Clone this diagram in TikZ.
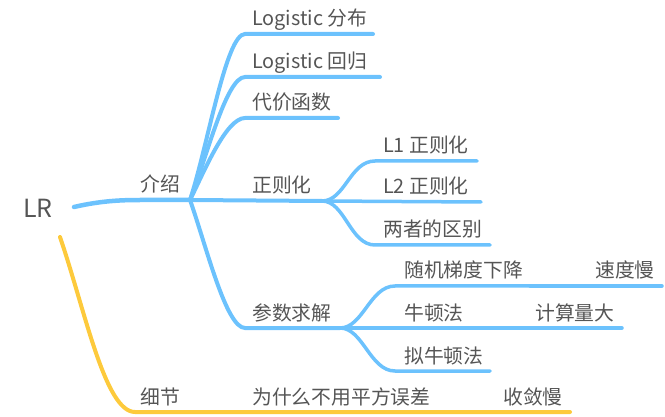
\documentclass[tikz,border=0pt]{standalone}
\usepackage{fontspec}
\setmainfont{Noto Sans CJK SC}
\usetikzlibrary{positioning}
\definecolor{skyline}{HTML}{6CC2FD}
\definecolor{sunline}{HTML}{FDCA3C}
\definecolor{inkgray}{HTML}{555555}
\tikzset{
	topic/.style={anchor=base west, inner sep=0pt, text=inkgray, font=\fontsize{19.8}{20}\selectfont},
	rootbar/.style={draw=skyline, line width=4.5pt, line cap=round},
	bluebar/.style={draw=skyline, line width=4pt, line cap=round},
	bluetwig/.style={draw=skyline, line width=3.5pt, line cap=round},
	sunbar/.style={draw=sunline, line width=4pt, line cap=round}
}
\newcommand{\sproutup}[3]{\draw[bluetwig] (#1) .. controls +(23,0) and +(-25,0) .. (#2) -- (#3);}
\begin{document}
\begin{tikzpicture}[x=1pt,y=-1pt]
	\useasboundingbox (0,0) rectangle (665,417);

	\node[inner sep=0pt, text=inkgray, font=\fontsize{25}{25}\selectfont] (lr) at (38,208) {LR};

	\coordinate (lr-b) at (74,207);
	\coordinate (lr-y) at (60,237);
	\coordinate (jieshao) at (190,200);
	\coordinate (fenbu-a) at (245,34);
	\coordinate (fenbu-b) at (373,34);
	\coordinate (huigui-a) at (245,77);
	\coordinate (huigui-b) at (380,77);
	\coordinate (daijia-a) at (245,118);
	\coordinate (daijia-b) at (338,118);
	\coordinate (zhengze-b) at (322,201);
	\coordinate (qiujie-a) at (245,328);
	\coordinate (qiujie-b) at (340,328);
	\coordinate (l1-a) at (375,161);
	\coordinate (l1-b) at (477,161);
	\coordinate (l2-b) at (481,202);
	\coordinate (qubie-a) at (375,245);
	\coordinate (qubie-b) at (490,245);
	\coordinate (sgd-a) at (395,286);
	\coordinate (sgd-b) at (530,286);
	\coordinate (sudu-b) at (662,286);
	\coordinate (niudun-b) at (470,328);
	\coordinate (jisuan-b) at (622,328);
	\coordinate (nidun-a) at (395,371);
	\coordinate (nidun-b) at (490,371);
	\coordinate (xijie-b) at (240,412);
	\coordinate (wucha-b) at (437,412);
	\coordinate (shoulian-b) at (570,412);

	\draw[rootbar] (lr-b) .. controls (100,201) and (120,200) .. (140,200) -- (jieshao);
	\draw[bluebar] (jieshao) .. controls (208,145) and (226,34) .. (fenbu-a) -- (fenbu-b);
	\draw[bluebar] (jieshao) .. controls (206,160) and (226,77) .. (huigui-a) -- (huigui-b);
	\draw[bluebar] (jieshao) .. controls (204,172) and (226,118) .. (daijia-a) -- (daijia-b);
	\draw[bluebar] (jieshao) -- (zhengze-b);
	\draw[bluebar] (jieshao) .. controls (206,245) and (226,328) .. (qiujie-a) -- (qiujie-b);

	\sproutup{zhengze-b}{l1-a}{l1-b}
	\draw[bluetwig] (zhengze-b) -- (l2-b);
	\sproutup{zhengze-b}{qubie-a}{qubie-b}

	\sproutup{qiujie-b}{sgd-a}{sgd-b}
	\draw[bluetwig] (sgd-b) -- (sudu-b);
	\draw[bluetwig] (qiujie-b) -- (niudun-b) -- (jisuan-b);
	\sproutup{qiujie-b}{nidun-a}{nidun-b}

	\draw[sunbar] (lr-y) .. controls (85,310) and (105,412) .. (135,412) -- (xijie-b) -- (wucha-b) -- (shoulian-b);

	\node[topic] (jieshao-t) at (140,192) {介绍};
	\node[topic] (fenbu) at (252,26) {Logistic 分布};
	\node[topic] (huigui) at (252,69) {Logistic 回归};
	\node[topic] (daijia) at (252,110) {代价函数};
	\node[topic] (zhengze) at (252,193) {正则化};
	\node[topic] (qiujie) at (252,320) {参数求解};
	\node[topic] (l1) at (383,153) {L1 正则化};
	\node[topic] (l2) at (383,194) {L2 正则化};
	\node[topic] (qubie) at (383,237) {两者的区别};
	\node[topic] (sgd) at (404,278) {随机梯度下降};
	\node[topic] (sudu) at (595,278) {速度慢};
	\node[topic] (niudun) at (404,320) {牛顿法};
	\node[topic] (jisuan) at (535,320) {计算量大};
	\node[topic] (nidun) at (404,363) {拟牛顿法};
	\node[topic] (xijie) at (140,404) {细节};
	\node[topic] (wucha) at (252,404) {为什么不用平方误差};
	\node[topic] (shoulian) at (503,404) {收敛慢};
\end{tikzpicture}
\end{document}
